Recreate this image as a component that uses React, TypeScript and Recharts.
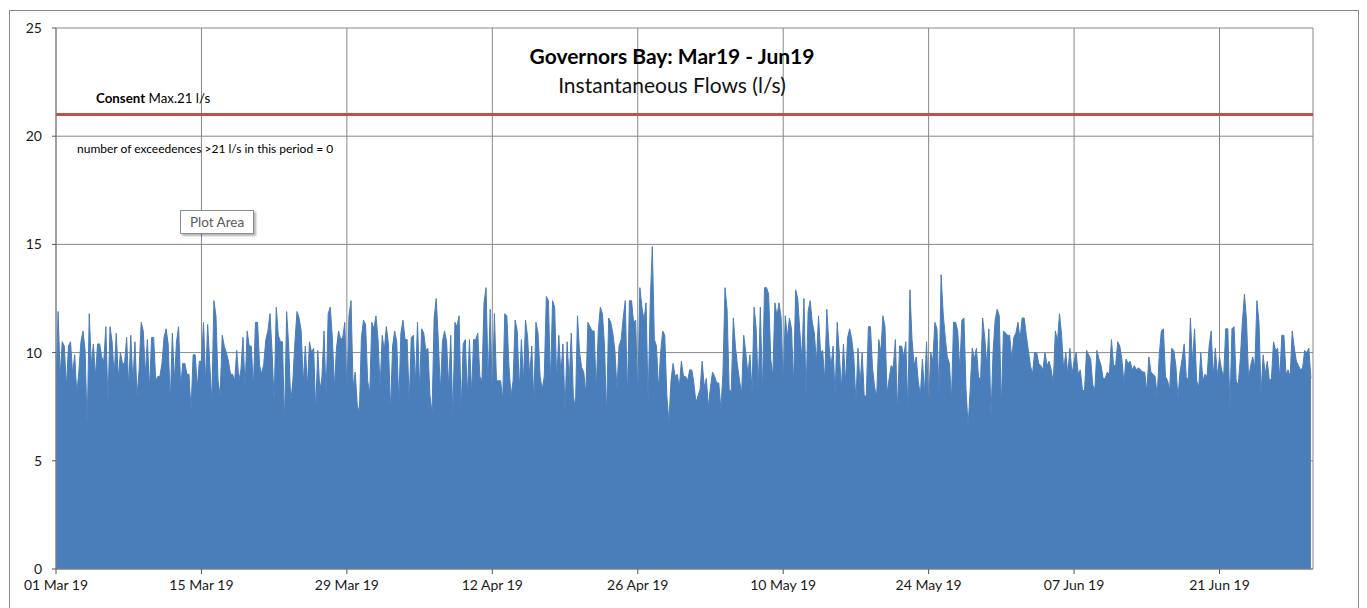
import { AreaChart, Area, XAxis, YAxis, CartesianGrid, ReferenceLine } from "recharts";

// Instantaneous flow readings (l/s), five readings per day
const marchFlows = [
  8.3, 11.9, 8.9, 10.5, 10.3, 8.4, 10.3, 10.5, 9.0, 9.9, 8.1, 9.1, 10.5, 11.0, 10.1,
  6.6, 11.8, 9.4, 10.4, 8.9, 10.4, 10.4, 9.8, 9.6, 11.2, 7.7, 11.2, 10.5, 8.9, 10.9,
  8.8, 10.0, 9.5, 9.5, 10.7, 8.4, 10.8, 8.6, 10.5, 8.0, 9.2, 11.4, 11.0, 9.0, 10.6,
  8.3, 10.7, 10.7, 8.7, 8.9, 8.9, 9.5, 10.7, 11.1, 10.4, 7.7, 10.9, 8.7, 10.5, 11.2,
  8.4, 9.5, 9.5, 9.0, 9.0, 7.3, 9.9, 9.9, 8.4, 9.6, 9.6, 11.4, 8.6, 11.3, 9.5,
  7.7, 12.4, 11.7, 8.7, 8.0, 10.8, 10.3, 10.0, 9.6, 9.0, 9.0, 8.7, 10.1, 8.7, 9.2,
  10.7, 8.4, 11.0, 10.3, 10.3, 8.4, 11.4, 11.4, 9.4, 9.0, 9.5, 10.6, 11.0, 11.8, 10.0,
  7.7, 12.1, 10.8, 10.5, 10.5, 6.7, 11.9, 10.3, 7.7, 8.7, 10.5, 11.9, 11.6, 11.0, 8.6,
  10.3, 8.4, 10.5, 10.0, 10.2, 7.3, 10.1, 8.2, 8.9, 11.0, 8.0, 11.8, 12.1, 10.7, 8.4,
  10.2, 11.0, 10.6, 10.7, 11.4, 8.1, 11.7, 12.4, 8.4, 9.1, 7.6, 7.2, 10.7, 11.5, 11.3,
  8.7, 8.1, 11.4, 11.1, 11.7,
];

const aprilFlows = [
  10.6, 8.4, 10.8, 10.1, 11.2, 10.4, 7.3, 10.3, 11.0, 10.5, 7.7, 10.9, 11.5, 10.6, 10.6,
  7.7, 10.7, 10.8, 8.6, 11.4, 8.3, 11.1, 10.9, 10.1, 10.2, 8.0, 7.2, 11.6, 12.5, 10.6,
  8.2, 10.5, 11.0, 10.5, 8.4, 10.8, 7.0, 11.4, 11.2, 11.7, 7.3, 10.4, 10.6, 8.0, 10.6,
  8.1, 10.6, 10.6, 10.9, 8.9, 8.7, 12.3, 13.0, 8.7, 12.0, 7.9, 11.8, 8.7, 8.7, 8.7,
  7.8, 11.8, 11.7, 9.4, 8.0, 8.7, 11.5, 11.0, 8.3, 10.6, 8.7, 11.5, 10.7, 8.9, 10.3,
  7.7, 11.4, 10.9, 8.9, 8.3, 8.9, 12.6, 12.4, 8.6, 12.4, 12.1, 8.7, 10.8, 9.0, 10.4,
  7.3, 10.5, 8.7, 10.9, 8.0, 7.4, 11.7, 10.0, 9.3, 9.1, 8.1, 11.4, 11.2, 11.0, 11.0,
  8.3, 11.0, 12.1, 11.8, 10.3, 7.1, 11.6, 11.4, 10.9, 10.1, 8.3, 10.3, 10.6, 11.6, 12.4,
  7.9, 12.4, 12.4, 11.4, 11.5, 7.8, 13.0, 12.1, 11.5, 12.3, 7.7, 12.3, 14.9, 10.6, 10.3,
  8.3, 10.0, 11.0, 10.8, 8.0, 6.8, 8.7, 9.5, 8.9, 9.0, 8.4, 9.6, 8.9, 8.9, 8.7,
];

const mayFlows = [
  9.2, 9.2, 8.6, 7.7, 8.0, 8.3, 9.6, 8.4, 8.8, 7.5, 8.4, 9.1, 8.9, 8.6, 8.6,
  7.4, 9.0, 13.0, 12.0, 8.3, 8.2, 11.6, 10.3, 9.4, 8.7, 8.1, 10.8, 10.0, 9.0, 9.9,
  8.2, 12.1, 11.1, 8.3, 12.1, 8.1, 13.0, 13.0, 12.7, 9.7, 8.9, 12.3, 11.7, 12.3, 11.6,
  8.5, 11.7, 10.7, 11.6, 11.1, 8.5, 12.9, 12.5, 11.0, 9.7, 12.5, 8.0, 11.9, 12.4, 11.4,
  10.9, 9.5, 11.7, 10.0, 10.1, 8.7, 12.0, 10.4, 9.3, 10.3, 8.0, 11.4, 10.0, 8.3, 10.4,
  8.6, 10.7, 11.1, 10.6, 9.8, 7.7, 10.2, 8.5, 10.0, 8.0, 8.0, 11.2, 11.2, 9.3, 8.4,
  8.0, 10.6, 10.0, 11.7, 11.2, 8.1, 8.8, 9.4, 9.3, 10.6, 7.3, 10.3, 10.3, 9.8, 10.5,
  7.4, 12.9, 10.6, 9.4, 9.8, 8.7, 8.0, 9.7, 8.1, 10.5, 7.4, 10.0, 9.6, 11.4, 11.1,
  8.1, 13.6, 11.8, 10.7, 9.8, 9.5, 7.8, 11.4, 11.4, 11.0, 9.2, 11.5, 11.6, 8.3, 6.6,
  8.3, 10.2, 9.7, 10.2, 8.9, 8.7, 11.6, 10.7, 9.4, 11.1, 7.0, 10.0, 11.5, 12.0, 11.7,
  7.5, 11.0, 10.9, 10.8, 10.8,
];

const juneFlows = [
  9.7, 10.7, 10.9, 11.4, 10.6, 11.6, 11.6, 10.8, 10.1, 9.4, 9.0, 10.0, 10.0, 9.5, 9.4,
  9.2, 10.0, 9.4, 9.6, 9.2, 8.6, 11.0, 10.5, 11.8, 10.8, 9.2, 10.0, 9.0, 10.2, 9.0,
  9.6, 10.0, 9.0, 9.2, 8.3, 8.2, 10.1, 9.9, 9.7, 8.5, 8.3, 10.1, 9.7, 9.4, 8.8,
  8.8, 9.1, 9.0, 10.6, 9.4, 9.4, 10.5, 10.3, 9.7, 8.6, 9.7, 9.5, 9.6, 9.2, 9.4,
  9.2, 9.3, 9.2, 9.1, 9.1, 8.2, 9.8, 9.1, 9.0, 8.9, 8.0, 9.9, 11.0, 11.1, 8.9,
  8.7, 8.3, 10.2, 10.1, 9.4, 7.9, 9.1, 9.7, 10.4, 8.9, 8.7, 11.6, 9.5, 11.1, 8.7,
  8.4, 10.0, 8.7, 9.0, 8.9, 10.3, 11.0, 8.9, 10.2, 8.9, 9.8, 9.2, 8.9, 11.1, 11.1,
  7.4, 11.1, 11.2, 8.7, 8.5, 9.7, 11.4, 12.7, 11.5, 8.8, 9.4, 9.8, 9.3, 12.4, 11.4,
  8.1, 9.9, 9.0, 9.6, 8.7, 8.8, 10.5, 10.1, 10.2, 8.8, 10.8, 10.8, 9.0, 9.2, 8.9,
  11.0, 10.2, 9.6, 9.4, 9.2, 9.3, 10.1, 10.0, 10.2, 8.8,
];

const readingsPerDay = 5;
const consentMax = 21;
const totalDays = 121;

const majorDays = [0, 14, 28, 42, 56, 70, 84, 98, 112];
const majorLabels = [
  "01 Mar 19", "15 Mar 19", "29 Mar 19", "12 Apr 19", "26 Apr 19",
  "10 May 19", "24 May 19", "07 Jun 19", "21 Jun 19",
];
const yTicks = [0, 5, 10, 15, 20, 25];

const flows = [...marchFlows, ...aprilFlows, ...mayFlows, ...juneFlows];
const data = flows.map((flow, i) => ({ day: i / readingsPerDay, flow }));
const dayTicks = Array.from({ length: totalDays + 1 }, (_, i) => i);

const FONT = "Lato, 'Open Sans', sans-serif";
const BLUE = "#4a7ebb";
const GRID = "#878787";

export default function App() {
  return (
    <div style={{ position: "absolute", left: 0, top: 0, width: 1367, height: 608, background: "#fff", overflow: "hidden", fontFamily: FONT }}>
      {/* chart frame */}
      <div style={{ position: "absolute", left: 9, top: 10, width: 1350, height: 620, border: "1.5px solid #8a8a8a", boxSizing: "border-box" }} />

      <div style={{ position: "absolute", left: 0, top: 0 }}>
        <AreaChart width={1367} height={608} data={data} margin={{ top: 28, right: 54, left: 16, bottom: 9 }}>
          <CartesianGrid xAxisId="days" yAxisId="flow" stroke={GRID} strokeWidth={1} />
          {/* daily minor tick marks, no labels */}
          <XAxis
            xAxisId="minor"
            dataKey="day"
            type="number"
            domain={[0, totalDays]}
            ticks={dayTicks}
            interval={0}
            allowDataOverflow
            height={0}
            tickFormatter={() => ""}
            tick={{ fontSize: 1 }}
            axisLine={false}
            tickSize={5}
            tickLine={{ stroke: "#555" }}
          />
          <XAxis
            xAxisId="days"
            dataKey="day"
            type="number"
            domain={[0, totalDays]}
            ticks={majorDays}
            interval={0}
            allowDataOverflow
            tickFormatter={(d) => majorLabels[majorDays.indexOf(d)] ?? ""}
            tickSize={5}
            tickMargin={6}
            height={30}
            axisLine={{ stroke: "#7f7f7f" }}
            tickLine={{ stroke: "#555" }}
            tick={{ fill: "#1a1a1a", fontSize: 14, fontFamily: FONT }}
          />
          <YAxis
            yAxisId="flow"
            type="number"
            domain={[0, 25]}
            ticks={yTicks}
            interval={0}
            width={40}
            tickSize={4}
            tickMargin={10}
            axisLine={{ stroke: "#7f7f7f" }}
            tickLine={{ stroke: "#555" }}
            tick={{ fill: "#1a1a1a", fontSize: 14, fontFamily: FONT }}
          />
          <Area
            xAxisId="days"
            yAxisId="flow"
            type="linear"
            dataKey="flow"
            stroke={BLUE}
            strokeWidth={1}
            fill={BLUE}
            fillOpacity={1}
            dot={false}
            activeDot={false}
            isAnimationActive={false}
          />
          <ReferenceLine xAxisId="days" yAxisId="flow" y={consentMax} stroke="#c0504d" strokeWidth={3} />
        </AreaChart>
      </div>

      {/* title */}
      <div style={{ position: "absolute", left: 422, width: 500, top: 44, textAlign: "center", fontSize: 21, fontWeight: 700, color: "#000", lineHeight: "24px" }}>
        Governors Bay: Mar19 - Jun19
      </div>
      <div style={{ position: "absolute", left: 422, width: 500, top: 73, textAlign: "center", fontSize: 21, color: "#111", lineHeight: "24px" }}>
        Instantaneous Flows (l/s)
      </div>

      {/* annotations */}
      <div style={{ position: "absolute", left: 96, top: 90, fontSize: 13.3, color: "#000", lineHeight: "16px", whiteSpace: "nowrap" }}>
        <b>Consent</b> Max.21 l/s
      </div>
      <div style={{ position: "absolute", left: 77, top: 142, fontSize: 12, color: "#000", lineHeight: "14px", whiteSpace: "nowrap" }}>
        number of exceedences &gt;21 l/s in this period = 0
      </div>

      {/* Excel hover tip */}
      <div style={{ position: "absolute", left: 180, top: 210, width: 74, height: 24, boxSizing: "border-box", border: "1px solid #8c8c8c", background: "#fff", boxShadow: "2px 2px 2px rgba(0,0,0,0.3)", color: "#5a5a5a", fontSize: 13.5, lineHeight: "22px", textAlign: "center" }}>
        Plot Area
      </div>
    </div>
  );
}
